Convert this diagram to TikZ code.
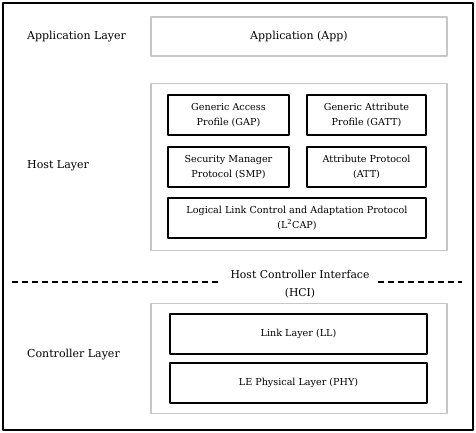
\documentclass[tikz,border=0pt]{standalone}
\usepackage{fontspec}
\setmainfont{DejaVu Serif}
\usepackage{xcolor}
\definecolor{framegray}{rgb}{0.78,0.78,0.78}

\tikzset{
    layerbox/.style={draw=framegray, line width=1.6pt, minimum width=296pt},
    protobox/.style={draw=black, line width=1.8pt, minimum height=40pt, align=center, font=\fontsize{9.6}{15}\selectfont},
    layername/.style={anchor=west, inner sep=0pt, font=\fontsize{11}{14}\selectfont}
}

\begin{document}
\begin{tikzpicture}[line cap=round,line join=round,x=1pt,y=-1pt]

    \useasboundingbox (0,0) rectangle (476,433);
    \draw [line width=1.6pt] (3,3) rectangle (473,430);

    % layers
    \node[layerbox, minimum height=39pt, font=\fontsize{11}{14}\selectfont] (app) at (299,36.5) {Application (App)};
    \node[layerbox, minimum height=167pt] (host) at (299,167) {};
    \node[layerbox, minimum height=110pt] (ctrl) at (299,358.5) {};

    \node[layername] (applbl) at (27,37) {Application Layer};
    \node[layername] (hostlbl) at (27,166) {Host Layer};
    \node[layername] (ctrllbl) at (27,355) {Controller Layer};

    % host blocks
    \node[protobox, minimum width=121pt] (gap) at (228.5,115) {Generic Access\\Profile (GAP)};
    \node[protobox, minimum width=119pt] (gatt) at (366.5,115) {Generic Attribute\\Profile (GATT)};
    \node[protobox, minimum width=121pt] (smp) at (228.5,167) {Security Manager\\Protocol (SMP)};
    \node[protobox, minimum width=119pt] (att) at (366.5,167) {Attribute Protocol\\(ATT)};
    \node[protobox, minimum width=258pt] (l2cap) at (297,218) {Logical Link Control and Adaptation Protocol\\(L\textsuperscript{2}CAP)};

    % controller blocks
    \node[protobox, minimum width=257pt] (ll) at (298.5,334) {Link Layer (LL)};
    \node[protobox, minimum width=257pt] (phy) at (298.5,383) {LE Physical Layer (PHY)};

    % HCI
    \node[align=center, inner sep=0pt, font=\fontsize{10.8}{18}\selectfont] (hci) at (300,284) {Host Controller Interface\\(HCI)};
    \coordinate (hcil) at (12,282);
    \coordinate (hcir) at (462,282);
    \draw [line width=1.1pt, dash pattern=on 6pt off 4pt, line cap=butt] (hcil) -- ([xshift=-12pt]hci.west |- hcil);
    \draw [line width=1.1pt, dash pattern=on 6pt off 4pt, line cap=butt] ([xshift=8pt]hci.east |- hcir) -- (hcir);

\end{tikzpicture}
\end{document}
